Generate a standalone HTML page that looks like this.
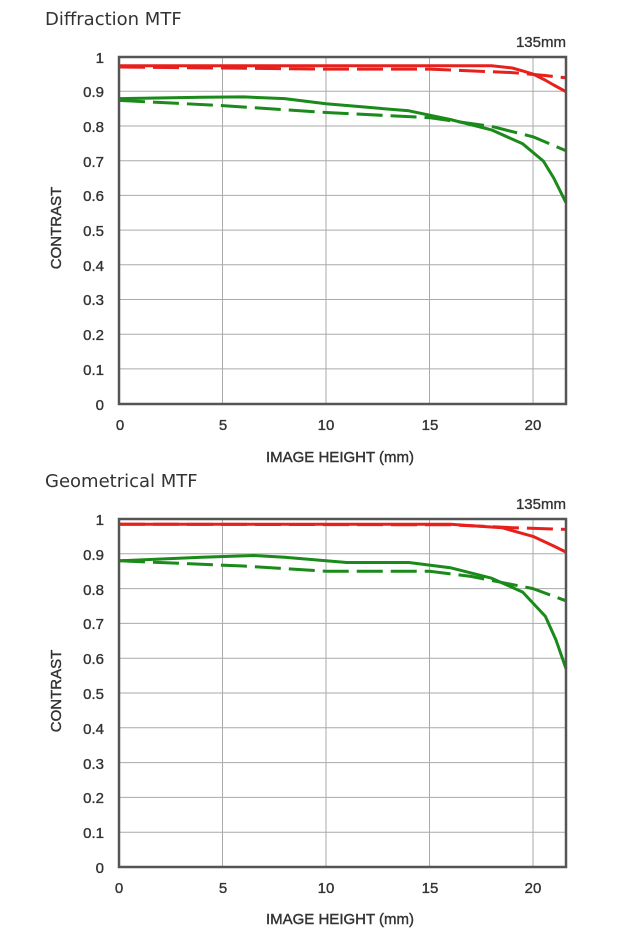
<!DOCTYPE html>
<html><head><meta charset="utf-8"><style>
html,body{margin:0;padding:0;background:#fff;width:620px;height:944px;overflow:hidden}
svg{display:block}
.t{font-family:"DejaVu Sans","Liberation Sans",sans-serif;font-size:18px;fill:#333}
.l{font-family:"Liberation Sans",sans-serif;font-size:15px;fill:#333;stroke:#333;stroke-width:0.35}
.a{font-family:"Liberation Sans",sans-serif;font-size:15px;fill:#333;stroke:#333;stroke-width:0.4}
</style></head><body>
<svg width="620" height="944" viewBox="0 0 620 944">
<text class="t" x="45" y="25">Diffraction MTF</text>
<text class="t" x="45" y="487">Geometrical MTF</text>

<!-- Chart 1 -->
<g stroke="#aaa" stroke-width="1">
<line x1="119" x2="566" y1="91.3" y2="91.3"/><line x1="119" x2="566" y1="126" y2="126"/>
<line x1="119" x2="566" y1="160.7" y2="160.7"/><line x1="119" x2="566" y1="195.4" y2="195.4"/>
<line x1="119" x2="566" y1="230.1" y2="230.1"/><line x1="119" x2="566" y1="264.8" y2="264.8"/>
<line x1="119" x2="566" y1="299.5" y2="299.5"/><line x1="119" x2="566" y1="334.2" y2="334.2"/>
<line x1="119" x2="566" y1="368.9" y2="368.9"/>
<line x1="222.5" x2="222.5" y1="57" y2="404"/><line x1="326" x2="326" y1="57" y2="404"/>
<line x1="429.5" x2="429.5" y1="57" y2="404"/><line x1="533" x2="533" y1="57" y2="404"/>
</g>
<g fill="none" stroke-width="3" stroke-linejoin="round" stroke-linecap="butt">
<path stroke="#e8201c" stroke-dasharray="26,8" d="M119,67 L326,69.1 L429.5,69.1 L512.3,72.6 L545,75.5 L566,77.8"/>
<path stroke="#e8201c" d="M119,65.7 L491.6,65.7 L512.3,68 L522.7,70.9 L533,74 L545,80 L553.7,85 L566,91.7"/>
<path stroke="#1a8a1a" stroke-dasharray="26,8" d="M119,100.4 L222.5,105.6 L326,112.5 L429.5,117.7 L491.6,126.4 L533,136.8 L566,150.7"/>
<path stroke="#1a8a1a" d="M119,98.6 L201.8,97.2 L243.2,96.9 L284.6,98.6 L326,103.8 L367.4,107.3 L408.8,110.8 L450.2,119.5 L491.6,129.9 L522.7,143.8 L543.4,161.1 L553.7,178 L566,202.7"/>
</g>
<rect x="119" y="57" width="447" height="347" fill="none" stroke="#555" stroke-width="2.5"/>
<g class="l" text-anchor="end">
<text x="104" y="63">1</text><text x="104" y="97">0.9</text><text x="104" y="132">0.8</text>
<text x="104" y="167">0.7</text><text x="104" y="201">0.6</text><text x="104" y="236">0.5</text>
<text x="104" y="271">0.4</text><text x="104" y="305">0.3</text><text x="104" y="340">0.2</text>
<text x="104" y="375">0.1</text><text x="104" y="410">0</text>
</g>
<g class="l" text-anchor="middle">
<text x="120" y="430">0</text><text x="223" y="430">5</text><text x="326" y="430">10</text>
<text x="430" y="430">15</text><text x="533" y="430">20</text>
</g>
<text class="a" x="340" y="462" text-anchor="middle">IMAGE HEIGHT (mm)</text>
<text class="a" transform="translate(61,228) rotate(-90)" text-anchor="middle">CONTRAST</text>
<text class="l" x="566" y="47" text-anchor="end">135mm</text>

<!-- Chart 2 -->
<g stroke="#aaa" stroke-width="1">
<line x1="119" x2="566" y1="553.8" y2="553.8"/><line x1="119" x2="566" y1="588.6" y2="588.6"/>
<line x1="119" x2="566" y1="623.4" y2="623.4"/><line x1="119" x2="566" y1="658.2" y2="658.2"/>
<line x1="119" x2="566" y1="693" y2="693"/><line x1="119" x2="566" y1="727.8" y2="727.8"/>
<line x1="119" x2="566" y1="762.6" y2="762.6"/><line x1="119" x2="566" y1="797.4" y2="797.4"/>
<line x1="119" x2="566" y1="832.2" y2="832.2"/>
<line x1="222.5" x2="222.5" y1="519" y2="867"/><line x1="326" x2="326" y1="519" y2="867"/>
<line x1="429.5" x2="429.5" y1="519" y2="867"/><line x1="533" x2="533" y1="519" y2="867"/>
</g>
<g fill="none" stroke-width="3" stroke-linejoin="round">
<path stroke="#e8201c" stroke-dasharray="26,8" d="M119,524.2 L450.2,524.8 L512.3,527.7 L566,529.4"/>
<path stroke="#e8201c" d="M119,524.2 L450.2,524.2 L502,527.7 L533,536.4 L553.7,546 L566,552.1"/>
<path stroke="#1a8a1a" stroke-dasharray="26,8" d="M119,560.8 L243.2,566 L326,571.2 L429.5,571.2 L470.9,576.4 L533,588.6 L566,600.8"/>
<path stroke="#1a8a1a" d="M119,560.8 L201.8,557.3 L253.6,555.5 L284.6,557.3 L346.7,562.5 L408.8,562.5 L450.2,567.7 L491.6,578.2 L522.7,592.1 L545.4,616.4 L556,640 L566,668.6"/>
</g>
<rect x="119" y="519" width="447" height="348" fill="none" stroke="#555" stroke-width="2.5"/>
<g class="l" text-anchor="end">
<text x="104" y="525">1</text><text x="104" y="560">0.9</text><text x="104" y="595">0.8</text>
<text x="104" y="629">0.7</text><text x="104" y="664">0.6</text><text x="104" y="699">0.5</text>
<text x="104" y="734">0.4</text><text x="104" y="769">0.3</text><text x="104" y="803">0.2</text>
<text x="104" y="838">0.1</text><text x="104" y="873">0</text>
</g>
<g class="l" text-anchor="middle">
<text x="119" y="893">0</text><text x="223" y="893">5</text><text x="326" y="893">10</text>
<text x="430" y="893">15</text><text x="533" y="893">20</text>
</g>
<text class="a" x="340" y="924" text-anchor="middle">IMAGE HEIGHT (mm)</text>
<text class="a" transform="translate(61,691) rotate(-90)" text-anchor="middle">CONTRAST</text>
<text class="l" x="566" y="509" text-anchor="end">135mm</text>
</svg>
</body></html>
